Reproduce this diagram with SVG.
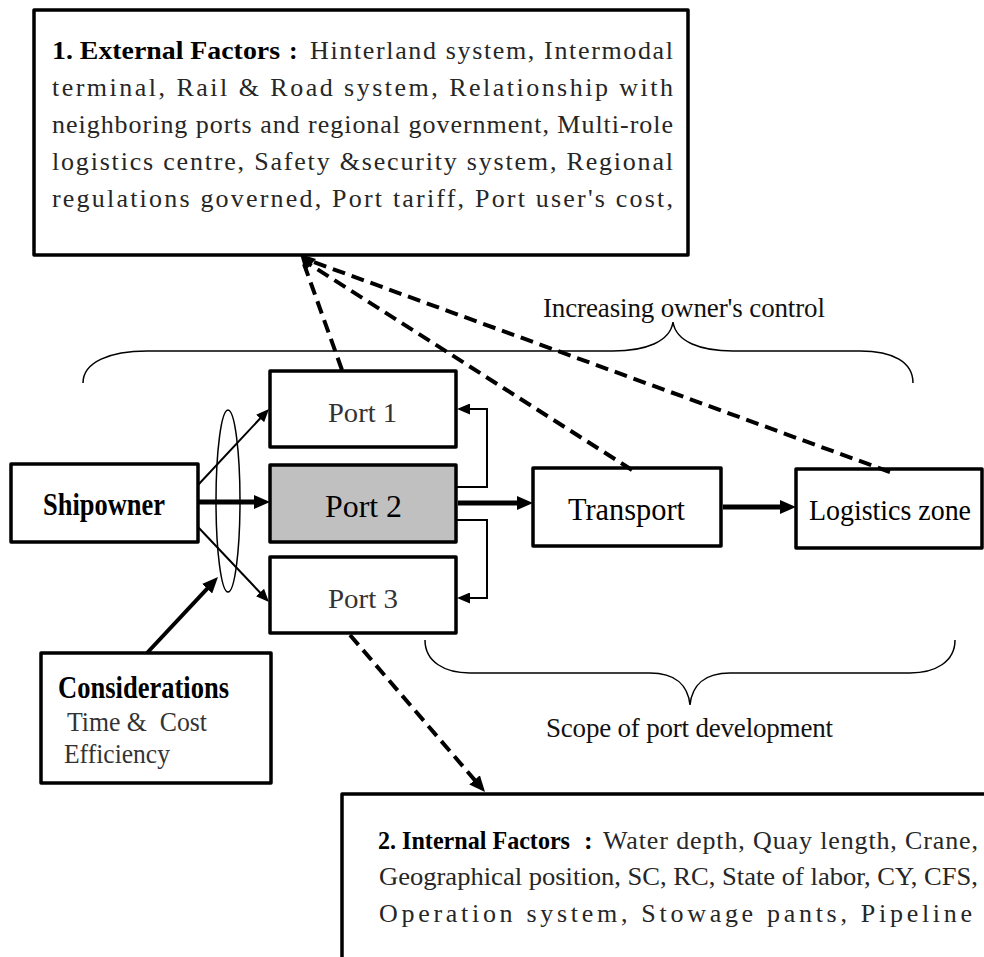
<svg xmlns="http://www.w3.org/2000/svg" width="984" height="957" viewBox="0 0 984 957">
<style>
.box{fill:#fff;stroke:#000;stroke-width:3.5;stroke-linejoin:round}
.thin{fill:none;stroke:#000;stroke-width:2}
.thick{fill:none;stroke:#000;stroke-width:5}
.dash{fill:none;stroke:#000;stroke-width:4;stroke-dasharray:13 7}
.brace{fill:none;stroke:#000;stroke-width:1.5}
text{font-family:"Liberation Serif","DejaVu Serif",serif}
.body{font-size:26px;fill:#262626}
.head{font-size:26px;font-weight:bold;fill:#000}
.lbl{font-size:32px;fill:#000}
.port{font-size:28px;fill:#333}
.cap{font-size:27px;fill:#111}
</style>
<defs>
<marker id="ahT" markerUnits="userSpaceOnUse" markerWidth="16" markerHeight="14" refX="4" refY="7" orient="auto"><path d="M0,0 L16,7 L0,14 z" fill="#000"/></marker>
<marker id="ahS" markerUnits="userSpaceOnUse" markerWidth="13" markerHeight="11" refX="2" refY="5.5" orient="auto"><path d="M0,0 L13,5.5 L0,11 z" fill="#000"/></marker>
</defs>

<g id="external-factors">
<rect class="box" x="34" y="10" width="654" height="245" stroke-width="2.5"/>
<text class="head" x="52" y="59" textLength="228" lengthAdjust="spacingAndGlyphs">1. External Factors</text>
<text class="head" x="289" y="59">:</text>
<text class="body" x="310" y="59" textLength="363">Hinterland system, Intermodal</text>
<text class="body" x="52" y="96" textLength="621">terminal, Rail &amp; Road system, Relationship with</text>
<text class="body" x="52" y="133" textLength="621">neighboring ports and regional government, Multi-role</text>
<text class="body" x="52" y="170" textLength="621">logistics centre, Safety &amp;security system, Regional</text>
<text class="body" x="52" y="207" textLength="621">regulations governed, Port tariff, Port user's cost,</text>
</g>

<g id="brace-top">
<path class="brace" d="M83,383 C83,362 110,351 147,351 L613,351 C645,351 670,342 673,322 C676,342 701,351 733,351 L860,351 C893,351 913,362 913,383"/>
<text class="cap" x="543" y="317" textLength="282">Increasing owner's control</text>
</g>

<g id="brace-bottom">
<path class="brace" d="M425,640 C425,662 445,673 470,673 L650,673 C675,673 688,685 690,705 C692,685 705,673 730,673 L910,673 C935,673 955,662 955,640"/>
<text class="cap" x="546" y="737" textLength="287">Scope of port development</text>
</g>

<g id="port1">
<rect class="box" x="270" y="371" width="186" height="76"/>
<text class="port" x="328" y="422" textLength="69" lengthAdjust="spacingAndGlyphs">Port 1</text>
</g>
<g id="port2">
<rect class="box" x="270" y="465" width="186" height="77" style="fill:#c0c0c0"/>
<text class="lbl" x="325" y="517" textLength="77" lengthAdjust="spacingAndGlyphs">Port 2</text>
</g>
<g id="port3">
<rect class="box" x="270" y="557" width="186" height="76"/>
<text class="port" x="328" y="608" textLength="70" lengthAdjust="spacingAndGlyphs">Port 3</text>
</g>
<g id="shipowner">
<rect class="box" x="11" y="464" width="187" height="78"/>
<text class="lbl" x="43" y="515" font-weight="bold" textLength="122" lengthAdjust="spacingAndGlyphs">Shipowner</text>
</g>
<g id="transport">
<rect class="box" x="533" y="468" width="188" height="78"/>
<text class="lbl" x="568" y="520" textLength="117" lengthAdjust="spacingAndGlyphs">Transport</text>
</g>
<g id="logistics-zone">
<rect class="box" x="796" y="469" width="186" height="79"/>
<text class="lbl" x="809" y="520" font-size="29" style="font-size:29px" textLength="162" lengthAdjust="spacingAndGlyphs">Logistics zone</text>
</g>
<g id="considerations">
<rect class="box" x="41" y="653" width="230" height="130"/>
<text class="lbl" x="58" y="698" font-weight="bold" textLength="171" lengthAdjust="spacingAndGlyphs">Considerations</text>
<text class="port" x="67" y="731" xml:space="preserve" style="white-space:pre" textLength="140" lengthAdjust="spacingAndGlyphs">Time &amp;  Cost</text>
<text class="port" x="64" y="763" textLength="106" lengthAdjust="spacingAndGlyphs">Efficiency</text>
</g>
<g id="internal-factors">
<rect class="box" x="342" y="794" width="700" height="220" stroke-width="3"/>
<text class="head" x="378" y="849" textLength="192" lengthAdjust="spacingAndGlyphs">2. Internal Factors</text>
<text class="head" x="584" y="849">:</text>
<text class="body" x="603" y="849" textLength="375">Water depth, Quay length, Crane,</text>
<text class="body" x="379" y="885" textLength="599" lengthAdjust="spacingAndGlyphs">Geographical position, SC, RC, State of labor, CY, CFS,</text>
<text class="body" x="379" y="922" textLength="593">Operation system, Stowage pants, Pipeline</text>
</g>

<g id="connectors">
<ellipse cx="228" cy="501" rx="12" ry="91" fill="none" stroke="#000" stroke-width="1.5"/>
<line class="thin" x1="198" y1="485" x2="261.5" y2="417" marker-end="url(#ahS)"/>
<line class="thick" x1="198" y1="502" x2="258" y2="502" marker-end="url(#ahT)"/>
<line class="thin" x1="198" y1="527" x2="261.4" y2="594" marker-end="url(#ahS)"/>
<line class="thick" x1="147" y1="653" x2="209.8" y2="585.8" style="stroke-width:4" marker-end="url(#ahT)"/>
<polyline class="thin" points="456,487 487,487 487,409 468,409" marker-end="url(#ahS)"/>
<polyline class="thin" points="456,520 487,520 487,598 468,598" marker-end="url(#ahS)"/>
<line class="thick" x1="458" y1="503" x2="521" y2="503" marker-end="url(#ahT)"/>
<line class="thick" x1="723" y1="507" x2="784" y2="507" marker-end="url(#ahT)"/>
<line class="dash" x1="350" y1="635" x2="477.2" y2="782.9" marker-end="url(#ahT)"/>
<line class="dash" x1="342" y1="370" x2="304" y2="264"/>
<line class="dash" x1="632" y1="470" x2="306" y2="262"/>
<line class="dash" x1="890" y1="472" x2="308" y2="260"/>
<polygon points="300,254 316,259 305,271" fill="#000"/>
</g>
</svg>
